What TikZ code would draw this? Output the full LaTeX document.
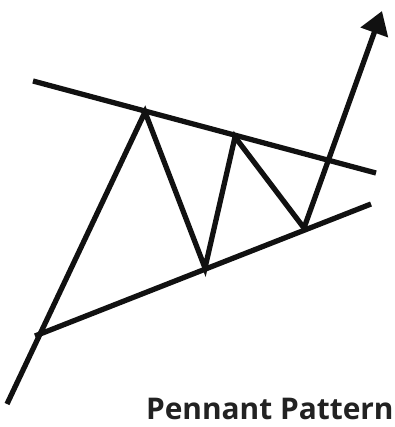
\documentclass[tikz,border=0pt]{standalone}
\usepackage{fontspec}
\setmainfont{Open Sans}
\usetikzlibrary{arrows.meta,positioning}
\definecolor{pnkink}{HTML}{111111}
\definecolor{pnktext}{HTML}{222222}

\begin{document}
\begin{tikzpicture}[
    x=0.02cm, y=-0.02cm,
    trend/.style={draw=pnkink, line width=3pt},
    move/.style={draw=pnkink, line width=3pt, line join=miter},
    breakout/.style={-{Triangle[length=13pt, width=16pt]}, draw=pnkink, fill=pnkink, line width=3pt},
    caption/.style={font=\fontsize{17}{20}\selectfont\bfseries, text=pnktext, inner sep=0pt}
]
    \useasboundingbox (0,0) rectangle (395,427);

    % trend lines
    \coordinate (up1) at (33,81);
    \coordinate (up2) at (376,173);
    \coordinate (lo1) at (35,336);
    \coordinate (lo2) at (371,204);
    \draw[trend] (up1) -- (up2);
    \draw[trend] (lo1) -- (lo2);

    % price swings
    \coordinate (start) at (7,404);
    \coordinate (peakA) at (145,112);
    \coordinate (lowA) at (205,268);
    \coordinate (peakB) at (235,137);
    \coordinate (lowB) at (304,228);
    \coordinate (tip) at (382,11);
    \draw[move] (start) -- (peakA) -- (lowA) -- (peakB) -- (lowB);
    \draw[breakout] (lowB) -- (tip);

    \node[caption, anchor=base east] (title) at (394,419) {Pennant Pattern};
\end{tikzpicture}
\end{document}
